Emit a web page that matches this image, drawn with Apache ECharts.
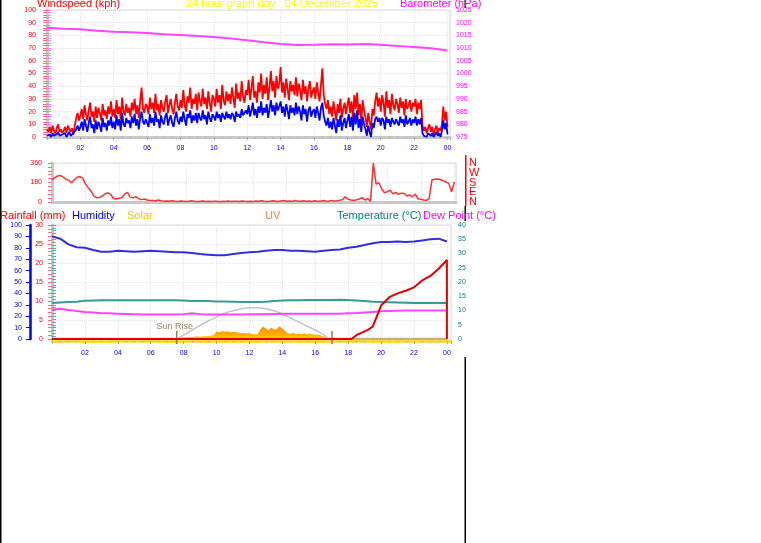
<!DOCTYPE html>
<html>
<head>
<meta charset="utf-8">
<title>24 hour graph</title>
<script src="https://cdn.jsdelivr.net/npm/echarts@6/dist/echarts.min.js"></script>
<style>
html, body { margin: 0; padding: 0; background: #fff; }
#chart { width: 761px; height: 543px; }
</style>
</head>
<body>
<div id="chart"></div>
<script>
// wind gust / average, every 5 minutes 00:00 -> 24:00 (kph)
const windStep = 5 / 60
const windGust = [
  6, 4, 8, 3, 9, 5, 2, 7, 10, 4, 6, 3,
  5, 8, 3, 9, 6, 4, 7, 2, 9, 15, 19, 13,
  17, 22, 14, 25, 18, 13, 21, 27, 16, 20, 12, 24,
  15, 23, 19, 13, 26, 17, 21, 14, 24, 18, 28, 16,
  22, 15, 29, 18, 24, 14, 31, 20, 17, 26, 19, 23,
  16, 27, 21, 30, 18, 25, 15, 28, 39, 22, 19, 26,
  24, 18, 31, 22, 27, 19, 34, 21, 26, 17, 29, 23,
  20, 28, 33, 19, 25, 30, 22, 18, 27, 34, 24, 21,
  29, 23, 37, 25, 20, 32, 27, 39, 22, 30, 26, 34,
  21, 35, 28, 24, 38, 26, 31, 22, 36, 27, 20, 33,
  30, 24, 38, 27, 33, 22, 41, 29, 25, 36, 28, 34,
  26, 39, 31, 23, 42, 30, 35, 28, 44, 32, 27, 37,
  33, 45, 29, 38, 48, 31, 36, 27, 43, 35, 50, 30,
  41, 34, 47, 29, 39, 52, 36, 44, 31, 48, 38, 42,
  55, 35, 43, 31, 46, 38, 29, 44, 36, 41, 33, 47,
  32, 42, 37, 29, 45, 34, 40, 28, 38, 44, 31, 36,
  39, 30, 43, 35, 28, 41, 54, 33, 26, 22, 29, 18,
  24, 16, 28, 20, 13, 26, 19, 30, 15, 22, 27, 18,
  25, 31, 19, 28, 14, 33, 22, 35, 17, 26, 12, 29,
  21, 15, 8, 19, 12, 6, 22, 17, 28, 35, 24, 31,
  20, 33, 27, 16, 36, 23, 29, 18, 34, 25, 21, 30,
  26, 19, 31, 23, 28, 17, 30, 22, 25, 29, 20, 27,
  24, 30, 18, 27, 22, 29, 9, 5, 8, 3, 7, 10,
  4, 8, 2, 6, 9, 3, 7, 5, 10, 24, 13, 20,
  8
]
const windAvg = [
  1, 0, 2, 0, 3, 1, 0, 2, 4, 1, 0, 2,
  1, 3, 0, 2, 4, 1, 0, 3, 2, 6, 9, 5,
  8, 12, 5, 14, 9, 4, 11, 16, 7, 10, 3, 13,
  6, 12, 9, 4, 15, 8, 11, 5, 13, 9, 16, 7,
  12, 6, 17, 9, 14, 5, 19, 10, 8, 15, 11, 13,
  7, 16, 11, 18, 9, 14, 6, 15, 20, 12, 10, 14,
  13, 8, 18, 11, 15, 9, 20, 12, 14, 7, 17, 12,
  10, 16, 19, 9, 14, 17, 11, 8, 15, 20, 13, 10,
  16, 12, 20, 14, 9, 18, 15, 21, 11, 17, 13, 19,
  11, 19, 15, 13, 21, 14, 17, 10, 20, 15, 12, 18,
  16, 13, 20, 15, 18, 12, 19, 16, 14, 20, 15, 18,
  14, 19, 17, 12, 20, 16, 18, 15, 22, 17, 19, 21,
  18, 25, 16, 21, 27, 17, 22, 15, 24, 19, 28, 17,
  23, 19, 26, 15, 22, 29, 20, 25, 17, 27, 21, 24,
  28, 19, 24, 16, 26, 21, 14, 25, 19, 23, 17, 27,
  18, 24, 20, 13, 25, 18, 22, 12, 21, 24, 16, 20,
  22, 15, 24, 19, 13, 23, 27, 17, 12, 9, 15, 7,
  12, 6, 15, 9, 3, 14, 8, 17, 5, 11, 15, 7,
  13, 18, 8, 16, 5, 19, 10, 21, 7, 14, 4, 16,
  10, 6, 1, 9, 4, 0, 11, 7, 14, 16, 12, 15,
  9, 15, 13, 6, 16, 11, 14, 8, 15, 12, 10, 14,
  13, 9, 16, 11, 14, 8, 17, 10, 12, 15, 9, 14,
  11, 16, 9, 14, 10, 15, 3, 1, 2, 0, 3, 4,
  1, 3, 0, 2, 4, 1, 3, 0, 5, 13, 6, 11,
  2
]

// barometer, hourly (hPa)
const baroStep = 1
const baroValues = [
  1018.0, 1017.6, 1017.4, 1016.8, 1016.4, 1016.2, 1015.9, 1015.5, 1015.2, 1014.8,
  1014.4, 1013.8, 1013.1, 1012.3, 1011.6, 1011.2, 1011.3, 1011.5, 1011.4, 1011.6,
  1011.3, 1010.8, 1010.4, 1009.9, 1009.1
]

// wind direction, every 10 minutes (degrees)
const dirStep = 10 / 60
const windDir = [
  205, 225, 240, 245, 230, 210,
  200, 178, 205, 228, 235, 220,
  165, 130, 100, 55, 38, 42,
  55, 75, 85, 70, 32, 28,
  35, 40, 72, 88, 45, 38,
  50, 30, 22, 28, 18, 14,
  15, 10, 18, 12, 8, 10,
  6, 12, 8, 5, 9, 7,
  4, 8, 11, 6, 3, 7,
  9, 5, 7, 4, 8, 6,
  3, 7, 5, 9, 4, 6,
  8, 5, 10, 6, 4, 7,
  5, 9, 6, 12, 7, 4,
  6, 11, 8, 5, 9, 13,
  7, 10, 5, 14, 8, 6,
  12, 7, 9, 5, 11, 8,
  6, 13, 9, 7, 15, 10,
  12, 16, 22, 48, 25, 18,
  14, 20, 28, 40, 18, 30,
  8, 360, 165, 178, 120, 85,
  95, 110, 75, 88, 70, 82,
  78, 55, 65, 48, 72, 30,
  25, 18, 15, 32, 205, 210,
  212, 208, 196, 185, 172, 95,
  185
]
const compassLabels = ['N', 'E', 'S', 'W', 'N']

// humidity / temperature / dew point, every 30 minutes
const thStep = 0.5
const humidity = [
  90, 88, 83, 80.5, 80, 78, 76.5, 76.5, 77.5, 77, 76.5, 77, 77.5, 77, 76.5, 76, 76, 75.5,
  74.5, 74, 73.5, 73.5, 74.5, 75.5, 76, 76.5, 77.5, 78, 78, 77.5, 77.5, 77, 76.5, 77.5,
  78, 78.5, 80, 81, 82.5, 84, 85, 85, 85.5, 85, 85.5, 86.5, 87.5, 88, 85.5
]
const temperature = [
  12.6, 12.8, 13.0, 13.1, 13.4, 13.5, 13.6, 13.6, 13.6, 13.6, 13.6, 13.6, 13.6, 13.6, 13.6, 13.6,
  13.5, 13.3, 13.3, 13.3, 13.2, 13.2, 13.1, 13.0, 13.0, 13.0, 13.1, 13.3, 13.5, 13.6, 13.6, 13.7,
  13.7, 13.7, 13.7, 13.8, 13.7, 13.5, 13.3, 13.1, 13.0, 12.9, 12.8, 12.7, 12.6, 12.6, 12.6, 12.6, 12.6
]
const dewPoint = [
  10.3, 10.6, 10.2, 9.8, 9.5, 9.3, 9.0, 9.0, 8.9, 8.8, 8.7, 8.6, 8.6, 8.6, 8.6, 8.6,
  8.7, 9.0, 8.7, 8.6, 8.6, 8.6, 8.6, 8.6, 8.7, 8.7, 8.7, 8.8, 8.9, 8.9, 8.9, 8.9,
  8.9, 8.9, 8.9, 8.9, 9.0, 9.1, 9.3, 9.5, 9.7, 9.8, 9.9, 10.0, 10.0, 10.0, 10.0, 10.0, 10.0
]

// rainfall running total (mm), resets at midnight
const rainHours = [0, 18.2, 18.5, 18.8, 19.2, 19.5, 19.7, 20, 20.5, 21, 21.5, 22, 22.5, 23, 23.5, 24, 24]
const rainTotal = [0, 0, 1.0, 1.6, 2.4, 3.3, 5.5, 8.8, 11.0, 12.0, 12.7, 13.6, 15.4, 16.6, 18.5, 20.8, 0]

// solar radiation, every 10 minutes (W/m2)
const solarStep = 10 / 60
const solar = [
  0, 0, 0, 0, 0, 0,  0, 0, 0, 0, 0, 0,  0, 0, 0, 0, 0, 0,  0, 0, 0, 0, 0, 0,
  0, 0, 0, 0, 0, 0,  0, 0, 0, 0, 0, 0,  0, 0, 0, 0, 0, 0,
  0, 0, 0, 0, 15, 18,
  20, 22, 25, 24, 28, 30,
  27, 32, 30, 35, 38, 45,
  85, 78, 90, 82, 88, 76,
  84, 80, 72, 65, 70, 62,
  68, 55, 50, 58, 110, 140,
  120, 100, 130, 105, 115, 145,
  118, 95, 65, 60, 70, 58,
  62, 55, 66, 52, 60, 55,
  50, 48, 42, 30, 10, 0,
  0, 0, 0, 0, 0, 0,  0, 0, 0, 0, 0, 0,  0, 0, 0, 0, 0, 0,  0, 0, 0, 0, 0, 0,
  0, 0, 0, 0, 0, 0,  0, 0, 0, 0, 0, 0,  0, 0, 0, 0, 0, 0,
  0
]
// theoretical clear-sky solar
const solarMaxHours = [7.58, 8, 8.5, 9, 9.5, 10, 10.5, 11, 11.5, 12, 12.5, 13, 13.5, 14, 14.5, 15, 15.5, 16, 16.5, 16.8]
const solarMax = [0, 45, 100, 155, 205, 250, 295, 322, 342, 355, 357, 345, 322, 285, 240, 195, 148, 100, 50, 0]

// UV index, hourly
const uvStep = 1
const uvIndex = [0, 0, 0, 0, 0, 0, 0, 0, 0, 0, 0, 0, 0, 0, 0, 0, 0, 0, 0, 0, 0, 0, 0, 0, 0]

// sun rise / sun set
const sunHours = [7.58, 17.02]
const sunLabels = ['Sun Rise', '']

const FONT = 'Liberation Sans, Arial, sans-serif'

const toPairs = (vals, step) => vals.map((v, i) => [i * step, v])
const zip = (xs, ys) => xs.map((x, i) => [x, ys[i]])
const hourLabel = v => (v > 0 && v % 2 === 0) ? String(v % 24).padStart(2, '0') : ''
const plain = v => String(v)

const hourAxis = (gridIndex, max, showLabels, extra) => Object.assign({
  type: 'value',
  gridIndex,
  min: 0,
  max,
  interval: 2,
  axisLine: { show: true, onZero: false, lineStyle: { color: '#C8C8C8', width: 3 } },
  axisTick: { show: showLabels, length: 3, lineStyle: { color: '#A8A8A8' } },
  minorTick: { show: showLabels, splitNumber: 4, length: 2, lineStyle: { color: '#B8B8B8' } },
  axisLabel: { show: showLabels, color: '#0000FF', fontSize: 7, fontFamily: FONT, margin: 8, formatter: hourLabel },
  splitLine: { show: true, lineStyle: { color: '#E2E2E2', type: 'dotted' } }
}, extra || {})

const sideAxis = (gridIndex, position, min, max, interval, color, tickColor, extra) => Object.assign({
  type: 'value',
  gridIndex,
  position,
  min,
  max,
  interval,
  axisLine: { show: true, onZero: false, lineStyle: { color: '#C8C8C8', width: 3 } },
  axisTick: { show: true, length: 4, lineStyle: { color: tickColor } },
  minorTick: { show: true, splitNumber: 5, length: 4, lineStyle: { color: tickColor } },
  axisLabel: { color, fontSize: 7, fontFamily: FONT, formatter: plain },
  splitLine: { show: false }
}, extra || {})

// compass letters split over two right axes so that none of them is hidden as overlapping
const compassAxis = keepEven => ({
  type: 'value', gridIndex: 1, position: 'right', min: 0, max: 360, interval: 90,
  axisLine: { show: false }, axisTick: { show: false }, splitLine: { show: false },
  axisLabel: {
    color: '#FF0000', fontSize: 11, fontFamily: FONT, margin: 13,
    showMinLabel: true, showMaxLabel: true,
    formatter: v => ((v / 90) % 2 === 0) === keepEven ? compassLabels[v / 90] : ''
  }
})

const chart = echarts.init(document.getElementById('chart'), null, { renderer: 'canvas' })

const texts = [
  ['Windspeed (kph)', 37, 9, '#FF0000', 'bottom'],
  ['24 hour graph day : 04 December 2025', 186, 9, '#FFFF00', 'bottom'],
  ['Barometer (hPa)', 400, 9, '#FF00FF', 'bottom'],
  ['Rainfall (mm)', 0, 216, '#FF0000', 'middle'],
  ['Humidity', 72, 216, '#0000FF', 'middle'],
  ['Solar', 127, 216, '#FFC000', 'middle'],
  ['UV', 265, 216, '#F08048', 'middle'],
  ['Temperature (\u00B0C)', 337, 216, '#008080', 'middle'],
  ['Dew Point (\u00B0C)', 423, 216, '#FF00FF', 'middle']
]

const option = {
  animation: false,
  backgroundColor: '#FFFFFF',
  graphic: [
    { type: 'rect', shape: { x: 0, y: 0, width: 1.5, height: 543 }, style: { fill: '#000' } },
    { type: 'rect', shape: { x: 464.5, y: 0, width: 1.5, height: 8 }, style: { fill: '#000' } },
    { type: 'rect', shape: { x: 465, y: 155, width: 1.5, height: 51 }, style: { fill: '#FF0000' } },
    { type: 'rect', shape: { x: 464.5, y: 206, width: 1.5, height: 15 }, style: { fill: '#000' } },
    { type: 'rect', shape: { x: 464.5, y: 357, width: 1.5, height: 186 }, style: { fill: '#000' } }
  ].concat(texts.map(([text, x, y, fill, va]) => ({
    type: 'text',
    x, y,
    style: { text, fill, font: '11px ' + FONT, textAlign: 'left', textVerticalAlign: va }
  }))),
  grid: [
    { left: 47, top: 10, width: 403, height: 127, show: true, borderColor: '#DADADA', borderWidth: 1 },
    { left: 52, top: 163, width: 404, height: 39, show: true, borderColor: '#DADADA', borderWidth: 1 },
    { left: 52, top: 225, width: 399, height: 114, show: true, borderColor: '#DADADA', borderWidth: 1 }
  ],
  xAxis: [
    hourAxis(0, 24.15, true),
    hourAxis(1, 24.1, false),
    hourAxis(2, 24.25, true, {
      offset: 2,
      axisLine: { show: true, onZero: false, lineStyle: { color: '#FFD700', width: 2.5 } },
      axisLabel: { show: true, color: '#0000FF', fontSize: 7, fontFamily: FONT, margin: 9, formatter: hourLabel }
    })
  ],
  yAxis: [
    sideAxis(0, 'left', 0, 100, 10, '#FF0000', '#FF7070', {
      axisLabel: { color: '#FF0000', fontSize: 7, fontFamily: FONT, margin: 11, formatter: plain },
      splitLine: { show: true, lineStyle: { color: '#E2E2E2', type: 'dotted' } }
    }),
    sideAxis(0, 'right', 975, 1025, 5, '#FF00FF', '#FF80FF', {
      axisLine: { show: false },
      axisLabel: { color: '#FF00FF', fontSize: 7, fontFamily: FONT, margin: 6, formatter: plain }
    }),
    sideAxis(1, 'left', 0, 360, 180, '#FF0000', '#FF7070', {
      axisLabel: { color: '#FF0000', fontSize: 7, fontFamily: FONT, margin: 10, formatter: plain },
      splitLine: { show: true, lineStyle: { color: '#E2E2E2', type: 'dotted' } }
    }),
    compassAxis(true),
    sideAxis(2, 'left', 0, 100, 10, '#0000FF', '#0000FF', {
      offset: 22,
      axisLine: { show: true, onZero: false, lineStyle: { color: '#0000FF', width: 2.5 } },
      minorTick: { show: false },
      axisLabel: { color: '#0000FF', fontSize: 7, fontFamily: FONT, margin: 8, formatter: plain }
    }),
    sideAxis(2, 'left', 0, 30, 5, '#FF0000', '#FF7070', {
      axisLabel: { color: '#FF0000', fontSize: 7, fontFamily: FONT, margin: 9, formatter: plain },
      splitLine: { show: true, lineStyle: { color: '#E6E6E6', type: 'dotted' } }
    }),
    sideAxis(2, 'right', 0, 40, 5, '#008080', '#60A8A8', {
      axisLine: { show: false },
      axisLabel: { color: '#008080', fontSize: 7, fontFamily: FONT, margin: 7, formatter: plain }
    }),
    { type: 'value', gridIndex: 2, min: 0, max: 1300, show: false },
    compassAxis(false)
  ],
  series: [
    {
      name: 'Gust', type: 'line', xAxisIndex: 0, yAxisIndex: 0, showSymbol: false,
      data: toPairs(windGust, windStep), lineStyle: { color: '#FF0000', width: 1.8 }
    },
    {
      name: 'Average', type: 'line', xAxisIndex: 0, yAxisIndex: 0, showSymbol: false,
      data: toPairs(windAvg, windStep), lineStyle: { color: '#0000FF', width: 1.8 }
    },
    {
      name: 'Barometer', type: 'line', xAxisIndex: 0, yAxisIndex: 1, showSymbol: false,
      data: toPairs(baroValues, baroStep), lineStyle: { color: '#FF44FF', width: 2 }
    },
    {
      name: 'Direction', type: 'line', xAxisIndex: 1, yAxisIndex: 2, showSymbol: false,
      data: toPairs(windDir, dirStep), lineStyle: { color: '#FF3030', width: 1.5 }
    },
    {
      name: 'Solar', type: 'line', xAxisIndex: 2, yAxisIndex: 7, showSymbol: false,
      data: toPairs(solar, solarStep),
      lineStyle: { width: 0 },
      areaStyle: {
        opacity: 1,
        color: new echarts.graphic.LinearGradient(0, 0, 0, 1, [
          { offset: 0, color: '#FF8C00' },
          { offset: 0.7, color: '#FFB000' },
          { offset: 1, color: '#FFE000' }
        ])
      }
    },
    {
      name: 'Solar max', type: 'line', xAxisIndex: 2, yAxisIndex: 7, showSymbol: false, smooth: true,
      data: zip(solarMaxHours, solarMax), lineStyle: { color: '#C4C4C4', width: 1.5 }
    },
    {
      name: 'UV', type: 'line', xAxisIndex: 2, yAxisIndex: 5, showSymbol: false,
      data: toPairs(uvIndex, uvStep), lineStyle: { color: '#D2AA80', width: 2.5 }
    },
    {
      name: 'Humidity', type: 'line', xAxisIndex: 2, yAxisIndex: 4, showSymbol: false,
      data: toPairs(humidity, thStep), lineStyle: { color: '#3030E0', width: 2 }
    },
    {
      name: 'Temperature', type: 'line', xAxisIndex: 2, yAxisIndex: 6, showSymbol: false,
      data: toPairs(temperature, thStep), lineStyle: { color: '#3A9A9A', width: 2 }
    },
    {
      name: 'Dew Point', type: 'line', xAxisIndex: 2, yAxisIndex: 6, showSymbol: false,
      data: toPairs(dewPoint, thStep), lineStyle: { color: '#FF44FF', width: 2 }
    },
    {
      name: 'Rainfall', type: 'line', xAxisIndex: 2, yAxisIndex: 5, showSymbol: false,
      data: zip(rainHours, rainTotal), lineStyle: { color: '#E00000', width: 2 }
    },
    {
      name: 'Sun', type: 'custom', xAxisIndex: 2, yAxisIndex: 5,
      data: sunHours.map(h => [h, 0]),
      renderItem: (params, api) => {
        const p = api.coord([api.value(0), 0])
        const children = [{
          type: 'line',
          shape: { x1: p[0], y1: p[1] - 8, x2: p[0], y2: p[1] + 5 },
          style: { stroke: '#A07850', lineWidth: 1.5 }
        }]
        const label = sunLabels[params.dataIndex]
        if (label) {
          children.push({
            type: 'text',
            style: {
              text: label, x: p[0] - 2, y: p[1] - 8, fill: '#A08060',
              font: '9px ' + FONT, textAlign: 'center', textVerticalAlign: 'bottom'
            }
          })
        }
        return { type: 'group', children }
      }
    }
  ]
}

chart.setOption(option)
</script>
</body>
</html>
